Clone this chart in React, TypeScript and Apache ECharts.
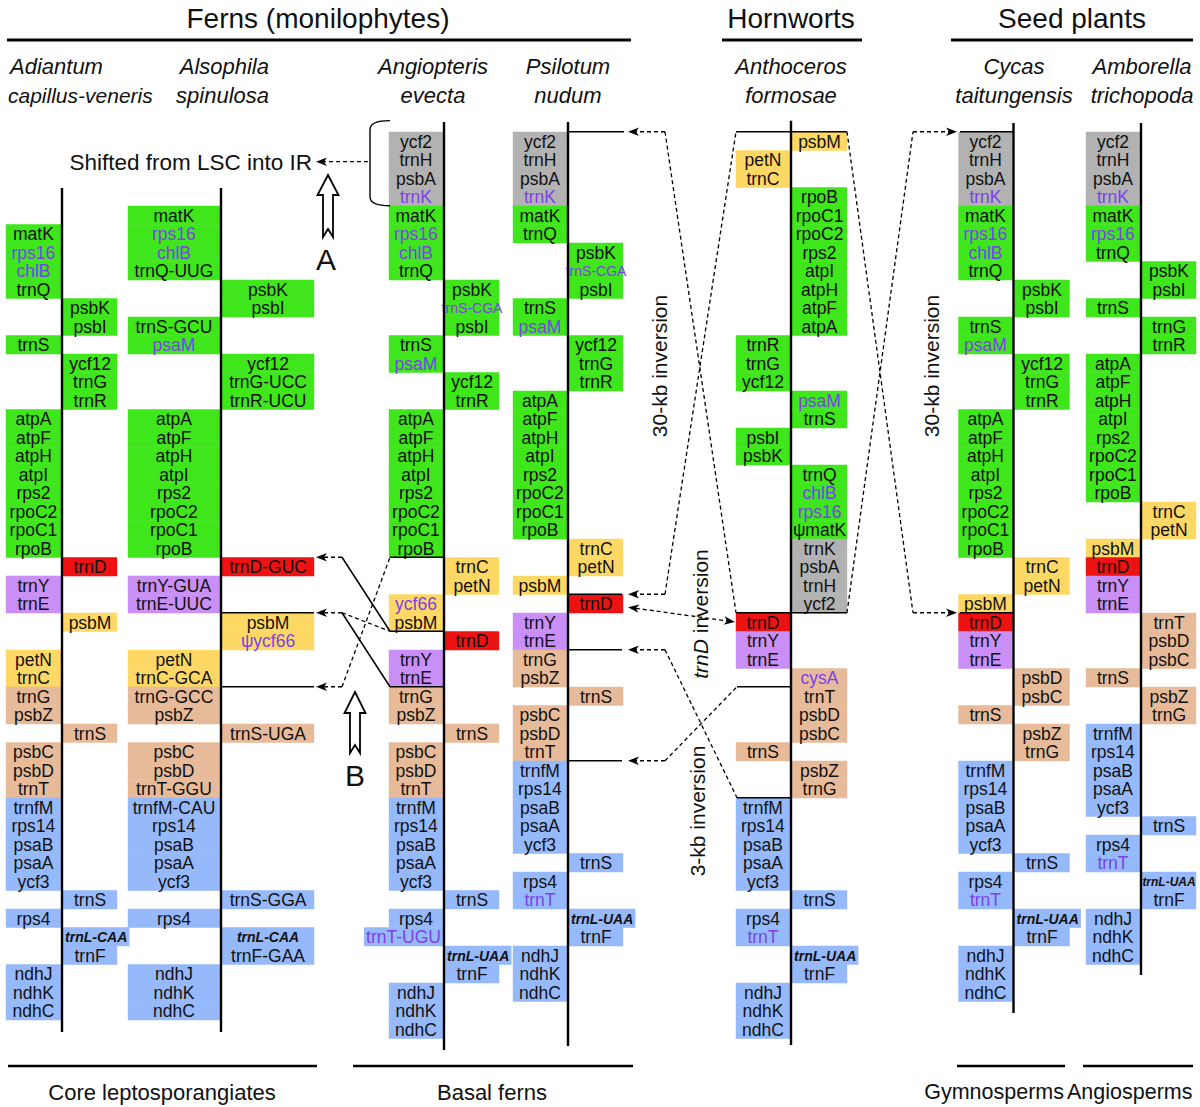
import React, { useEffect, useRef } from "react";
import * as echarts from "echarts";

const CHART_W = 1200;
const CHART_H = 1107;
const ROW0 = 141; // pixel centre of row 0
const ROWH = 18.5; // pixel height of one gene row
const LINE_W = 2.4;

const FONT = '"Liberation Sans", Arial, Helvetica, sans-serif';
const TEXT = "#111111";
const PURPLE_TEXT = "#7b42ea";
const COLOR: Record<string, string> = {
  G: "#3fe61c",
  K: "#b2b2b2",
  Y: "#fed864",
  R: "#ee1212",
  P: "#c98ff6",
  T: "#e7bb99",
  B: "#96b9fb",
};

// ---- gene orders: [row, side, colour, label, style] ----
const ADIANTUM = [
  [5, "L", "G", "matK"], [6, "L", "G", "rps16", "p"], [7, "L", "G", "chlB", "p"], [8, "L", "G", "trnQ"],
  [9, "R", "G", "psbK"], [10, "R", "G", "psbI"],
  [11, "L", "G", "trnS"],
  [12, "R", "G", "ycf12"], [13, "R", "G", "trnG"], [14, "R", "G", "trnR"],
  [15, "L", "G", "atpA"], [16, "L", "G", "atpF"], [17, "L", "G", "atpH"], [18, "L", "G", "atpI"],
  [19, "L", "G", "rps2"], [20, "L", "G", "rpoC2"], [21, "L", "G", "rpoC1"], [22, "L", "G", "rpoB"],
  [23, "R", "R", "trnD"],
  [24, "L", "P", "trnY"], [25, "L", "P", "trnE"],
  [26, "R", "Y", "psbM"],
  [28, "L", "Y", "petN"], [29, "L", "Y", "trnC"],
  [30, "L", "T", "trnG"], [31, "L", "T", "psbZ"],
  [32, "R", "T", "trnS"],
  [33, "L", "T", "psbC"], [34, "L", "T", "psbD"], [35, "L", "T", "trnT"],
  [36, "L", "B", "trnfM"], [37, "L", "B", "rps14"], [38, "L", "B", "psaB"], [39, "L", "B", "psaA"], [40, "L", "B", "ycf3"],
  [41, "R", "B", "trnS"],
  [42, "L", "B", "rps4"],
  [43, "R", "B", "trnL-CAA", "bi"], [44, "R", "B", "trnF"],
  [45, "L", "B", "ndhJ"], [46, "L", "B", "ndhK"], [47, "L", "B", "ndhC"],
];

const ALSOPHILA = [
  [4, "L", "G", "matK"], [5, "L", "G", "rps16", "p"], [6, "L", "G", "chlB", "p"], [7, "L", "G", "trnQ-UUG"],
  [8, "R", "G", "psbK"], [9, "R", "G", "psbI"],
  [10, "L", "G", "trnS-GCU"], [11, "L", "G", "psaM", "p"],
  [12, "R", "G", "ycf12"], [13, "R", "G", "trnG-UCC"], [14, "R", "G", "trnR-UCU"],
  [15, "L", "G", "atpA"], [16, "L", "G", "atpF"], [17, "L", "G", "atpH"], [18, "L", "G", "atpI"],
  [19, "L", "G", "rps2"], [20, "L", "G", "rpoC2"], [21, "L", "G", "rpoC1"], [22, "L", "G", "rpoB"],
  [23, "R", "R", "trnD-GUC"],
  [24, "L", "P", "trnY-GUA"], [25, "L", "P", "trnE-UUC"],
  [26, "R", "Y", "psbM"], [27, "R", "Y", "ψycf66", "p"],
  [28, "L", "Y", "petN"], [29, "L", "Y", "trnC-GCA"],
  [30, "L", "T", "trnG-GCC"], [31, "L", "T", "psbZ"],
  [32, "R", "T", "trnS-UGA"],
  [33, "L", "T", "psbC"], [34, "L", "T", "psbD"], [35, "L", "T", "trnT-GGU"],
  [36, "L", "B", "trnfM-CAU"], [37, "L", "B", "rps14"], [38, "L", "B", "psaB"], [39, "L", "B", "psaA"], [40, "L", "B", "ycf3"],
  [41, "R", "B", "trnS-GGA"],
  [42, "L", "B", "rps4"],
  [43, "R", "B", "trnL-CAA", "bi"], [44, "R", "B", "trnF-GAA"],
  [45, "L", "B", "ndhJ"], [46, "L", "B", "ndhK"], [47, "L", "B", "ndhC"],
];

const ANGIOPTERIS = [
  [0, "L", "K", "ycf2"], [1, "L", "K", "trnH"], [2, "L", "K", "psbA"], [3, "L", "K", "trnK", "p"],
  [4, "L", "G", "matK"], [5, "L", "G", "rps16", "p"], [6, "L", "G", "chlB", "p"], [7, "L", "G", "trnQ"],
  [8, "R", "G", "psbK"], [9, "R", "G", "trnS-CGA", "ps"], [10, "R", "G", "psbI"],
  [11, "L", "G", "trnS"], [12, "L", "G", "psaM", "p"],
  [13, "R", "G", "ycf12"], [14, "R", "G", "trnR"],
  [15, "L", "G", "atpA"], [16, "L", "G", "atpF"], [17, "L", "G", "atpH"], [18, "L", "G", "atpI"],
  [19, "L", "G", "rps2"], [20, "L", "G", "rpoC2"], [21, "L", "G", "rpoC1"], [22, "L", "G", "rpoB"],
  [23, "R", "Y", "trnC"], [24, "R", "Y", "petN"],
  [25, "L", "Y", "ycf66", "p"], [26, "L", "Y", "psbM"],
  [27, "R", "R", "trnD"],
  [28, "L", "P", "trnY"], [29, "L", "P", "trnE"],
  [30, "L", "T", "trnG"], [31, "L", "T", "psbZ"],
  [32, "R", "T", "trnS"],
  [33, "L", "T", "psbC"], [34, "L", "T", "psbD"], [35, "L", "T", "trnT"],
  [36, "L", "B", "trnfM"], [37, "L", "B", "rps14"], [38, "L", "B", "psaB"], [39, "L", "B", "psaA"], [40, "L", "B", "ycf3"],
  [41, "R", "B", "trnS"],
  [42, "L", "B", "rps4"], [43, "L", "B", "trnT-UGU", "pw"],
  [44, "R", "B", "trnL-UAA", "bi"], [45, "R", "B", "trnF"],
  [46, "L", "B", "ndhJ"], [47, "L", "B", "ndhK"], [48, "L", "B", "ndhC"],
];

const PSILOTUM = [
  [0, "L", "K", "ycf2"], [1, "L", "K", "trnH"], [2, "L", "K", "psbA"], [3, "L", "K", "trnK", "p"],
  [4, "L", "G", "matK"], [5, "L", "G", "trnQ"],
  [6, "R", "G", "psbK"], [7, "R", "G", "trnS-CGA", "ps"], [8, "R", "G", "psbI"],
  [9, "L", "G", "trnS"], [10, "L", "G", "psaM", "p"],
  [11, "R", "G", "ycf12"], [12, "R", "G", "trnG"], [13, "R", "G", "trnR"],
  [14, "L", "G", "atpA"], [15, "L", "G", "atpF"], [16, "L", "G", "atpH"], [17, "L", "G", "atpI"],
  [18, "L", "G", "rps2"], [19, "L", "G", "rpoC2"], [20, "L", "G", "rpoC1"], [21, "L", "G", "rpoB"],
  [22, "R", "Y", "trnC"], [23, "R", "Y", "petN"],
  [24, "L", "Y", "psbM"],
  [25, "R", "R", "trnD"],
  [26, "L", "P", "trnY"], [27, "L", "P", "trnE"],
  [28, "L", "T", "trnG"], [29, "L", "T", "psbZ"],
  [30, "R", "T", "trnS"],
  [31, "L", "T", "psbC"], [32, "L", "T", "psbD"], [33, "L", "T", "trnT"],
  [34, "L", "B", "trnfM"], [35, "L", "B", "rps14"], [36, "L", "B", "psaB"], [37, "L", "B", "psaA"], [38, "L", "B", "ycf3"],
  [39, "R", "B", "trnS"],
  [40, "L", "B", "rps4"], [41, "L", "B", "trnT", "p"],
  [42, "R", "B", "trnL-UAA", "bi"], [43, "R", "B", "trnF"],
  [44, "L", "B", "ndhJ"], [45, "L", "B", "ndhK"], [46, "L", "B", "ndhC"],
];

const ANTHOCEROS = [
  [0, "R", "Y", "psbM"],
  [1, "L", "Y", "petN"], [2, "L", "Y", "trnC"],
  [3, "R", "G", "rpoB"], [4, "R", "G", "rpoC1"], [5, "R", "G", "rpoC2"], [6, "R", "G", "rps2"],
  [7, "R", "G", "atpI"], [8, "R", "G", "atpH"], [9, "R", "G", "atpF"], [10, "R", "G", "atpA"],
  [11, "L", "G", "trnR"], [12, "L", "G", "trnG"], [13, "L", "G", "ycf12"],
  [14, "R", "G", "psaM", "p"], [15, "R", "G", "trnS"],
  [16, "L", "G", "psbI"], [17, "L", "G", "psbK"],
  [18, "R", "G", "trnQ"], [19, "R", "G", "chlB", "p"], [20, "R", "G", "rps16", "p"], [21, "R", "G", "ψmatK"],
  [22, "R", "K", "trnK"], [23, "R", "K", "psbA"], [24, "R", "K", "trnH"], [25, "R", "K", "ycf2"],
  [26, "L", "R", "trnD"],
  [27, "L", "P", "trnY"], [28, "L", "P", "trnE"],
  [29, "R", "T", "cysA", "p"], [30, "R", "T", "trnT"], [31, "R", "T", "psbD"], [32, "R", "T", "psbC"],
  [33, "L", "T", "trnS"],
  [34, "R", "T", "psbZ"], [35, "R", "T", "trnG"],
  [36, "L", "B", "trnfM"], [37, "L", "B", "rps14"], [38, "L", "B", "psaB"], [39, "L", "B", "psaA"], [40, "L", "B", "ycf3"],
  [41, "R", "B", "trnS"],
  [42, "L", "B", "rps4"], [43, "L", "B", "trnT", "p"],
  [44, "R", "B", "trnL-UAA", "bi"], [45, "R", "B", "trnF"],
  [46, "L", "B", "ndhJ"], [47, "L", "B", "ndhK"], [48, "L", "B", "ndhC"],
];

const CYCAS = [
  [0, "L", "K", "ycf2"], [1, "L", "K", "trnH"], [2, "L", "K", "psbA"], [3, "L", "K", "trnK", "p"],
  [4, "L", "G", "matK"], [5, "L", "G", "rps16", "p"], [6, "L", "G", "chlB", "p"], [7, "L", "G", "trnQ"],
  [8, "R", "G", "psbK"], [9, "R", "G", "psbI"],
  [10, "L", "G", "trnS"], [11, "L", "G", "psaM", "p"],
  [12, "R", "G", "ycf12"], [13, "R", "G", "trnG"], [14, "R", "G", "trnR"],
  [15, "L", "G", "atpA"], [16, "L", "G", "atpF"], [17, "L", "G", "atpH"], [18, "L", "G", "atpI"],
  [19, "L", "G", "rps2"], [20, "L", "G", "rpoC2"], [21, "L", "G", "rpoC1"], [22, "L", "G", "rpoB"],
  [23, "R", "Y", "trnC"], [24, "R", "Y", "petN"],
  [25, "L", "Y", "psbM"],
  [26, "L", "R", "trnD"],
  [27, "L", "P", "trnY"], [28, "L", "P", "trnE"],
  [29, "R", "T", "psbD"], [30, "R", "T", "psbC"],
  [31, "L", "T", "trnS"],
  [32, "R", "T", "psbZ"], [33, "R", "T", "trnG"],
  [34, "L", "B", "trnfM"], [35, "L", "B", "rps14"], [36, "L", "B", "psaB"], [37, "L", "B", "psaA"], [38, "L", "B", "ycf3"],
  [39, "R", "B", "trnS"],
  [40, "L", "B", "rps4"], [41, "L", "B", "trnT", "p"],
  [42, "R", "B", "trnL-UAA", "bi"], [43, "R", "B", "trnF"],
  [44, "L", "B", "ndhJ"], [45, "L", "B", "ndhK"], [46, "L", "B", "ndhC"],
];

const AMBORELLA = [
  [0, "L", "K", "ycf2"], [1, "L", "K", "trnH"], [2, "L", "K", "psbA"], [3, "L", "K", "trnK", "p"],
  [4, "L", "G", "matK"], [5, "L", "G", "rps16", "p"], [6, "L", "G", "trnQ"],
  [7, "R", "G", "psbK"], [8, "R", "G", "psbI"],
  [9, "L", "G", "trnS"],
  [10, "R", "G", "trnG"], [11, "R", "G", "trnR"],
  [12, "L", "G", "atpA"], [13, "L", "G", "atpF"], [14, "L", "G", "atpH"], [15, "L", "G", "atpI"],
  [16, "L", "G", "rps2"], [17, "L", "G", "rpoC2"], [18, "L", "G", "rpoC1"], [19, "L", "G", "rpoB"],
  [20, "R", "Y", "trnC"], [21, "R", "Y", "petN"],
  [22, "L", "Y", "psbM"],
  [23, "L", "R", "trnD"],
  [24, "L", "P", "trnY"], [25, "L", "P", "trnE"],
  [26, "R", "T", "trnT"], [27, "R", "T", "psbD"], [28, "R", "T", "psbC"],
  [29, "L", "T", "trnS"],
  [30, "R", "T", "psbZ"], [31, "R", "T", "trnG"],
  [32, "L", "B", "trnfM"], [33, "L", "B", "rps14"], [34, "L", "B", "psaB"], [35, "L", "B", "psaA"], [36, "L", "B", "ycf3"],
  [37, "R", "B", "trnS"],
  [38, "L", "B", "rps4"], [39, "L", "B", "trnT", "p"],
  [40, "R", "B", "trnL-UAA", "bis"], [41, "R", "B", "trnF"],
  [42, "L", "B", "ndhJ"], [43, "L", "B", "ndhK"], [44, "L", "B", "ndhC"],
];

// ---- column layout (x of the genome line in px, box widths, line extent in rows) ----
const COLS = [
  { genes: ADIANTUM, x: 62, wL: 55, wR: 54, top: 2.54, bottom: 48.16 },
  { genes: ALSOPHILA, x: 221, wL: 92, wR: 92, top: 2.54, bottom: 48.16 },
  { genes: ANGIOPTERIS, x: 444, wL: 54, wR: 54, top: -1.03, bottom: 49.14 },
  { genes: PSILOTUM, x: 568, wL: 54, wR: 54, top: -1.03, bottom: 48.92 },
  { genes: ANTHOCEROS, x: 791, wL: 54, wR: 55, top: -1.1, bottom: 48.86 },
  { genes: CYCAS, x: 1013.5, wL: 54, wR: 55, top: -0.97, bottom: 47.14 },
  { genes: AMBORELLA, x: 1141, wL: 54, wR: 54, top: -0.97, bottom: 45.08 },
];

// ---- connectors: points as [x px, row boundary]; d = dashed; h = arrow head ('e' end, 'b' both) ----
const CONNECTORS: any[] = [
  { p: [[390, 22.5], [444, 22.5]] },
  { p: [[390, 26.5], [444, 26.5]] },
  { p: [[390, 29.5], [444, 29.5]] },
  { p: [[221, 25.5], [314, 25.5]] },
  { p: [[221, 29.5], [314, 29.5]] },
  { p: [[342, 22.5], [316, 22.5]], d: 1, h: "e" },
  { p: [[342, 22.5], [390, 26.5]] },
  { p: [[342, 25.5], [316, 25.5]], d: 1, h: "e" },
  { p: [[342, 25.5], [390, 26.5]], d: 1 },
  { p: [[342, 25.5], [390, 29.5]] },
  { p: [[342, 29.5], [316, 29.5]], d: 1, h: "e" },
  { p: [[342, 29.5], [390, 22.5]], d: 1 },
  { p: [[568, -0.5], [624, -0.5]] },
  { p: [[665, -0.5], [628, -0.5]], d: 1, h: "e" },
  { p: [[665, -0.5], [736, 25.5]], d: 1 },
  { p: [[568, 24.5], [622, 24.5]] },
  { p: [[665, 24.5], [628, 24.5]], d: 1, h: "e" },
  { p: [[665, 24.5], [736, -0.5]], d: 1 },
  { p: [[736, -0.5], [847, -0.5]] },
  { p: [[736, 25.5], [847, 25.5]] },
  { p: [[847, -0.5], [913, 25.5]], d: 1 },
  { p: [[847, 25.5], [913, -0.5]], d: 1 },
  { p: [[913, -0.5], [957, -0.5]], d: 1, h: "e" },
  { p: [[913, 25.5], [957, 25.5]], d: 1, h: "e" },
  { p: [[960, -0.5], [1013, -0.5]] },
  { p: [[960, 25.5], [1013, 25.5]] },
  { p: [[628, 25.2], [735, 26.0]], d: 1, h: "b" },
  { p: [[568, 27.5], [622, 27.5]] },
  { p: [[568, 33.5], [622, 33.5]] },
  { p: [[665, 27.5], [628, 27.5]], d: 1, h: "e" },
  { p: [[665, 33.5], [628, 33.5]], d: 1, h: "e" },
  { p: [[665, 27.5], [737, 35.5]], d: 1 },
  { p: [[665, 33.5], [737, 29.5]], d: 1 },
  { p: [[737, 29.5], [791, 29.5]] },
  { p: [[737, 35.5], [791, 35.5]] },
  { p: [[368, 1.12], [316, 1.12]], d: 1, h: "e" },
  { bracket: { x: 370, x2: 390, top: -1.1, bottom: 3.5 } },
];

let measureCtx: CanvasRenderingContext2D | null = null;
function textWidth(text: string, font: string) {
  if (!measureCtx) measureCtx = document.createElement("canvas").getContext("2d");
  if (!measureCtx) return text.length * 8;
  measureCtx.font = font;
  return measureCtx.measureText(text).width;
}

function labelStyle(st: string) {
  let size = 17.5;
  let weight = "normal";
  let fstyle = "normal";
  let fill = TEXT;
  if (st === "p" || st === "ps" || st === "pw") fill = PURPLE_TEXT;
  if (st === "ps") size = 14;
  if (st === "bi") { size = 14; weight = "bold"; fstyle = "italic"; }
  if (st === "bis") { size = 12; weight = "bold"; fstyle = "italic"; }
  return { font: `${fstyle} ${weight} ${size}px ${FONT}`, fill };
}

function arrowHead(tip: number[], from: number[], len = 11, hw = 4.2) {
  const dx = tip[0] - from[0];
  const dy = tip[1] - from[1];
  const L = Math.sqrt(dx * dx + dy * dy) || 1;
  const ux = dx / L, uy = dy / L;
  const nx = -uy, ny = ux;
  const bx = tip[0] - ux * len, by = tip[1] - uy * len;
  return {
    points: [
      [tip[0], tip[1]],
      [bx + nx * hw, by + ny * hw],
      [tip[0] - ux * len * 0.72, tip[1] - uy * len * 0.72],
      [bx - nx * hw, by - ny * hw],
    ],
    inner: [tip[0] - ux * len * 0.72, tip[1] - uy * len * 0.72],
  };
}

export default function App() {
  const ref = useRef<HTMLDivElement>(null);

  useEffect(() => {
    document.body.style.margin = "0";
    if (!ref.current) return;
    const chart = echarts.init(ref.current, undefined, { renderer: "svg", width: CHART_W, height: CHART_H });

    const flat: any[] = [];
    COLS.forEach((col, ci) => {
      col.genes.forEach((g: any[]) => {
        flat.push({ c: ci, row: g[0], side: g[1], color: g[2], label: g[3], st: g[4] || "" });
      });
    });

    const geneSeries = {
      type: "custom",
      silent: true,
      z: 2,
      data: flat.map((g) => [COLS[g.c].x, g.row]),
      renderItem: (params: any, api: any) => {
        const g = flat[params.dataIndex];
        const col = COLS[g.c];
        const ls = labelStyle(g.st);
        const base = g.side === "L" ? col.wL : col.wR;
        let w = base;
        if (g.st === "bi" || g.st === "pw") w = Math.max(base, textWidth(g.label, ls.font) + 4);
        const half = LINE_W / 2;
        const xa = g.side === "L" ? col.x - half - w : col.x + half - 0.3;
        const xb = g.side === "L" ? col.x - half + 0.3 : col.x + half + w;
        const p0 = api.coord([xa, g.row - 0.5]);
        const p1 = api.coord([xb, g.row + 0.5]);
        return {
          type: "group",
          children: [
            {
              type: "rect",
              shape: { x: p0[0], y: p0[1], width: p1[0] - p0[0], height: p1[1] - p0[1] + 0.6 },
              style: { fill: COLOR[g.color] },
            },
            {
              type: "text",
              z2: 5,
              style: {
                text: g.label,
                x: (p0[0] + p1[0]) / 2,
                y: (p0[1] + p1[1]) / 2 + 0.5,
                align: "center",
                verticalAlign: "middle",
                textAlign: "center",
                textVerticalAlign: "middle",
                font: ls.font,
                fill: ls.fill,
              },
            },
          ],
        };
      },
    };

    const lineSeries = {
      type: "custom",
      silent: true,
      z: 3,
      data: COLS.map((c) => [c.x, c.top]),
      renderItem: (params: any, api: any) => {
        const c = COLS[params.dataIndex];
        const a = api.coord([c.x, c.top]);
        const b = api.coord([c.x, c.bottom]);
        return {
          type: "line",
          shape: { x1: a[0], y1: a[1], x2: b[0], y2: b[1] },
          style: { stroke: "#000", lineWidth: LINE_W },
        };
      },
    };

    const connSeries = {
      type: "custom",
      silent: true,
      z: 4,
      data: CONNECTORS.map((c) => (c.p ? c.p[0] : [c.bracket.x, c.bracket.top])),
      renderItem: (params: any, api: any) => {
        const c = CONNECTORS[params.dataIndex];
        if (c.bracket) {
          const b = c.bracket;
          const t1 = api.coord([b.x2, b.top]);
          const t0 = api.coord([b.x, b.top]);
          const b0 = api.coord([b.x, b.bottom]);
          const b1 = api.coord([b.x2, b.bottom]);
          const r = 9;
          const d = `M${t1[0]},${t1[1]} Q${t0[0]},${t0[1]} ${t0[0]},${t0[1] + r} L${b0[0]},${b0[1] - r} Q${b0[0]},${b0[1]} ${b1[0]},${b1[1]}`;
          return {
            type: "path",
            shape: { pathData: d },
            style: { stroke: "#000", lineWidth: 1.4, fill: null },
          };
        }
        const pts = c.p.map((q: number[]) => api.coord(q));
        const children: any[] = [];
        const linePts = pts.map((q: number[]) => [q[0], q[1]]);
        if (c.h === "e" || c.h === "b") {
          const n = linePts.length;
          const ah = arrowHead(pts[n - 1], pts[n - 2]);
          children.push({ type: "polygon", shape: { points: ah.points }, style: { fill: "#000" } });
          linePts[n - 1] = ah.inner;
        }
        if (c.h === "b") {
          const ah = arrowHead(pts[0], pts[1]);
          children.push({ type: "polygon", shape: { points: ah.points }, style: { fill: "#000" } });
          linePts[0] = ah.inner;
        }
        children.unshift({
          type: "polyline",
          shape: { points: linePts },
          style: {
            stroke: "#000",
            lineWidth: c.d ? 1.3 : 1.5,
            lineDash: c.d ? [4, 3] : null,
            fill: null,
          },
        });
        return { type: "group", children };
      },
    };

    const txt = (x: number, y: number, text: string, size: number, opts: any = {}) => ({
      type: "text",
      x,
      y,
      rotation: opts.rotation || 0,
      silent: true,
      z: 10,
      style: {
        text,
        x: 0,
        y: 0,
        font: `${opts.italic ? "italic " : ""}${size}px ${FONT}`,
        fill: TEXT,
        align: opts.align || "center",
        textAlign: opts.align || "center",
        verticalAlign: "middle",
        textVerticalAlign: "middle",
      },
    });
    const hline = (x1: number, x2: number, y: number, w: number) => ({
      type: "line",
      silent: true,
      z: 10,
      shape: { x1, y1: y, x2, y2: y },
      style: { stroke: "#000", lineWidth: w },
    });
    const hollowArrow = (cx: number, tip: number, headBase: number, bottom: number) => ({
      type: "polygon",
      silent: true,
      z: 10,
      shape: {
        points: [
          [cx, tip], [cx + 10.5, headBase], [cx + 5, headBase], [cx + 5, bottom], [cx, bottom - 8],
          [cx - 5, bottom], [cx - 5, headBase], [cx - 10.5, headBase],
        ],
      },
      style: { fill: "#fff", stroke: "#000", lineWidth: 1.8 },
    });

    const graphic: any[] = [
      txt(318, 18, "Ferns (monilophytes)", 28),
      txt(791, 18, "Hornworts", 28),
      txt(1072, 18, "Seed plants", 28),
      hline(7, 631, 40, 3),
      hline(722, 862, 40, 3),
      hline(951, 1193, 40, 3),
      txt(10, 66, "Adiantum", 22, { italic: true, align: "left" }),
      txt(8, 95, "capillus-veneris", 21, { italic: true, align: "left" }),
      txt(269, 66, "Alsophila", 22, { italic: true, align: "right" }),
      txt(269, 95, "spinulosa", 22, { italic: true, align: "right" }),
      txt(433, 66, "Angiopteris", 22, { italic: true }),
      txt(433, 95, "evecta", 22, { italic: true }),
      txt(568, 66, "Psilotum", 22, { italic: true }),
      txt(568, 95, "nudum", 22, { italic: true }),
      txt(791, 66, "Anthoceros", 22, { italic: true }),
      txt(791, 95, "formosae", 22, { italic: true }),
      txt(1014, 66, "Cycas", 22, { italic: true }),
      txt(1014, 95, "taitungensis", 22, { italic: true }),
      txt(1142, 66, "Amborella", 22, { italic: true }),
      txt(1142, 95, "trichopoda", 22, { italic: true }),
      txt(312, 162, "Shifted from LSC into IR", 22.5, { align: "right" }),
      hollowArrow(328, 175, 195, 237),
      txt(326, 259, "A", 30),
      hollowArrow(355, 692, 713, 753),
      txt(355, 775, "B", 30),
      txt(659, 366, "30-kb inversion", 21, { rotation: Math.PI / 2 }),
      txt(931, 366, "30-kb inversion", 21, { rotation: Math.PI / 2 }),
      txt(697, 811, "3-kb inversion", 21, { rotation: Math.PI / 2 }),
      {
        type: "text",
        x: 700,
        y: 614,
        rotation: Math.PI / 2,
        silent: true,
        z: 10,
        style: {
          text: "{i|trnD} inversion",
          x: 0,
          y: 0,
          fontSize: 21,
          fontFamily: FONT,
          fill: TEXT,
          align: "center",
          textAlign: "center",
          verticalAlign: "middle",
          textVerticalAlign: "middle",
          rich: { i: { fontStyle: "italic", fontSize: 21, fontFamily: FONT, fill: TEXT } },
        },
      },
      hline(8, 317, 1066, 2.5),
      hline(353, 633, 1066, 2.5),
      hline(957, 1065, 1066, 2.5),
      hline(1083, 1193, 1066, 2.5),
      txt(162, 1092, "Core leptosporangiates", 22),
      txt(492, 1092, "Basal ferns", 22),
      txt(1064, 1092, "Gymnosperms", 21.5, { align: "right" }),
      txt(1067, 1092, "Angiosperms", 21.5, { align: "left" }),
    ];

    chart.setOption({
      animation: false,
      backgroundColor: "#ffffff",
      grid: { left: 0, right: 0, top: 0, bottom: 0, containLabel: false },
      xAxis: { type: "value", min: 0, max: CHART_W, show: false },
      yAxis: { type: "value", inverse: true, min: -ROW0 / ROWH, max: (CHART_H - ROW0) / ROWH, show: false },
      series: [geneSeries, lineSeries, connSeries],
      graphic,
    });

    return () => chart.dispose();
  }, []);

  return <div ref={ref} style={{ width: CHART_W, height: CHART_H }} />;
}
